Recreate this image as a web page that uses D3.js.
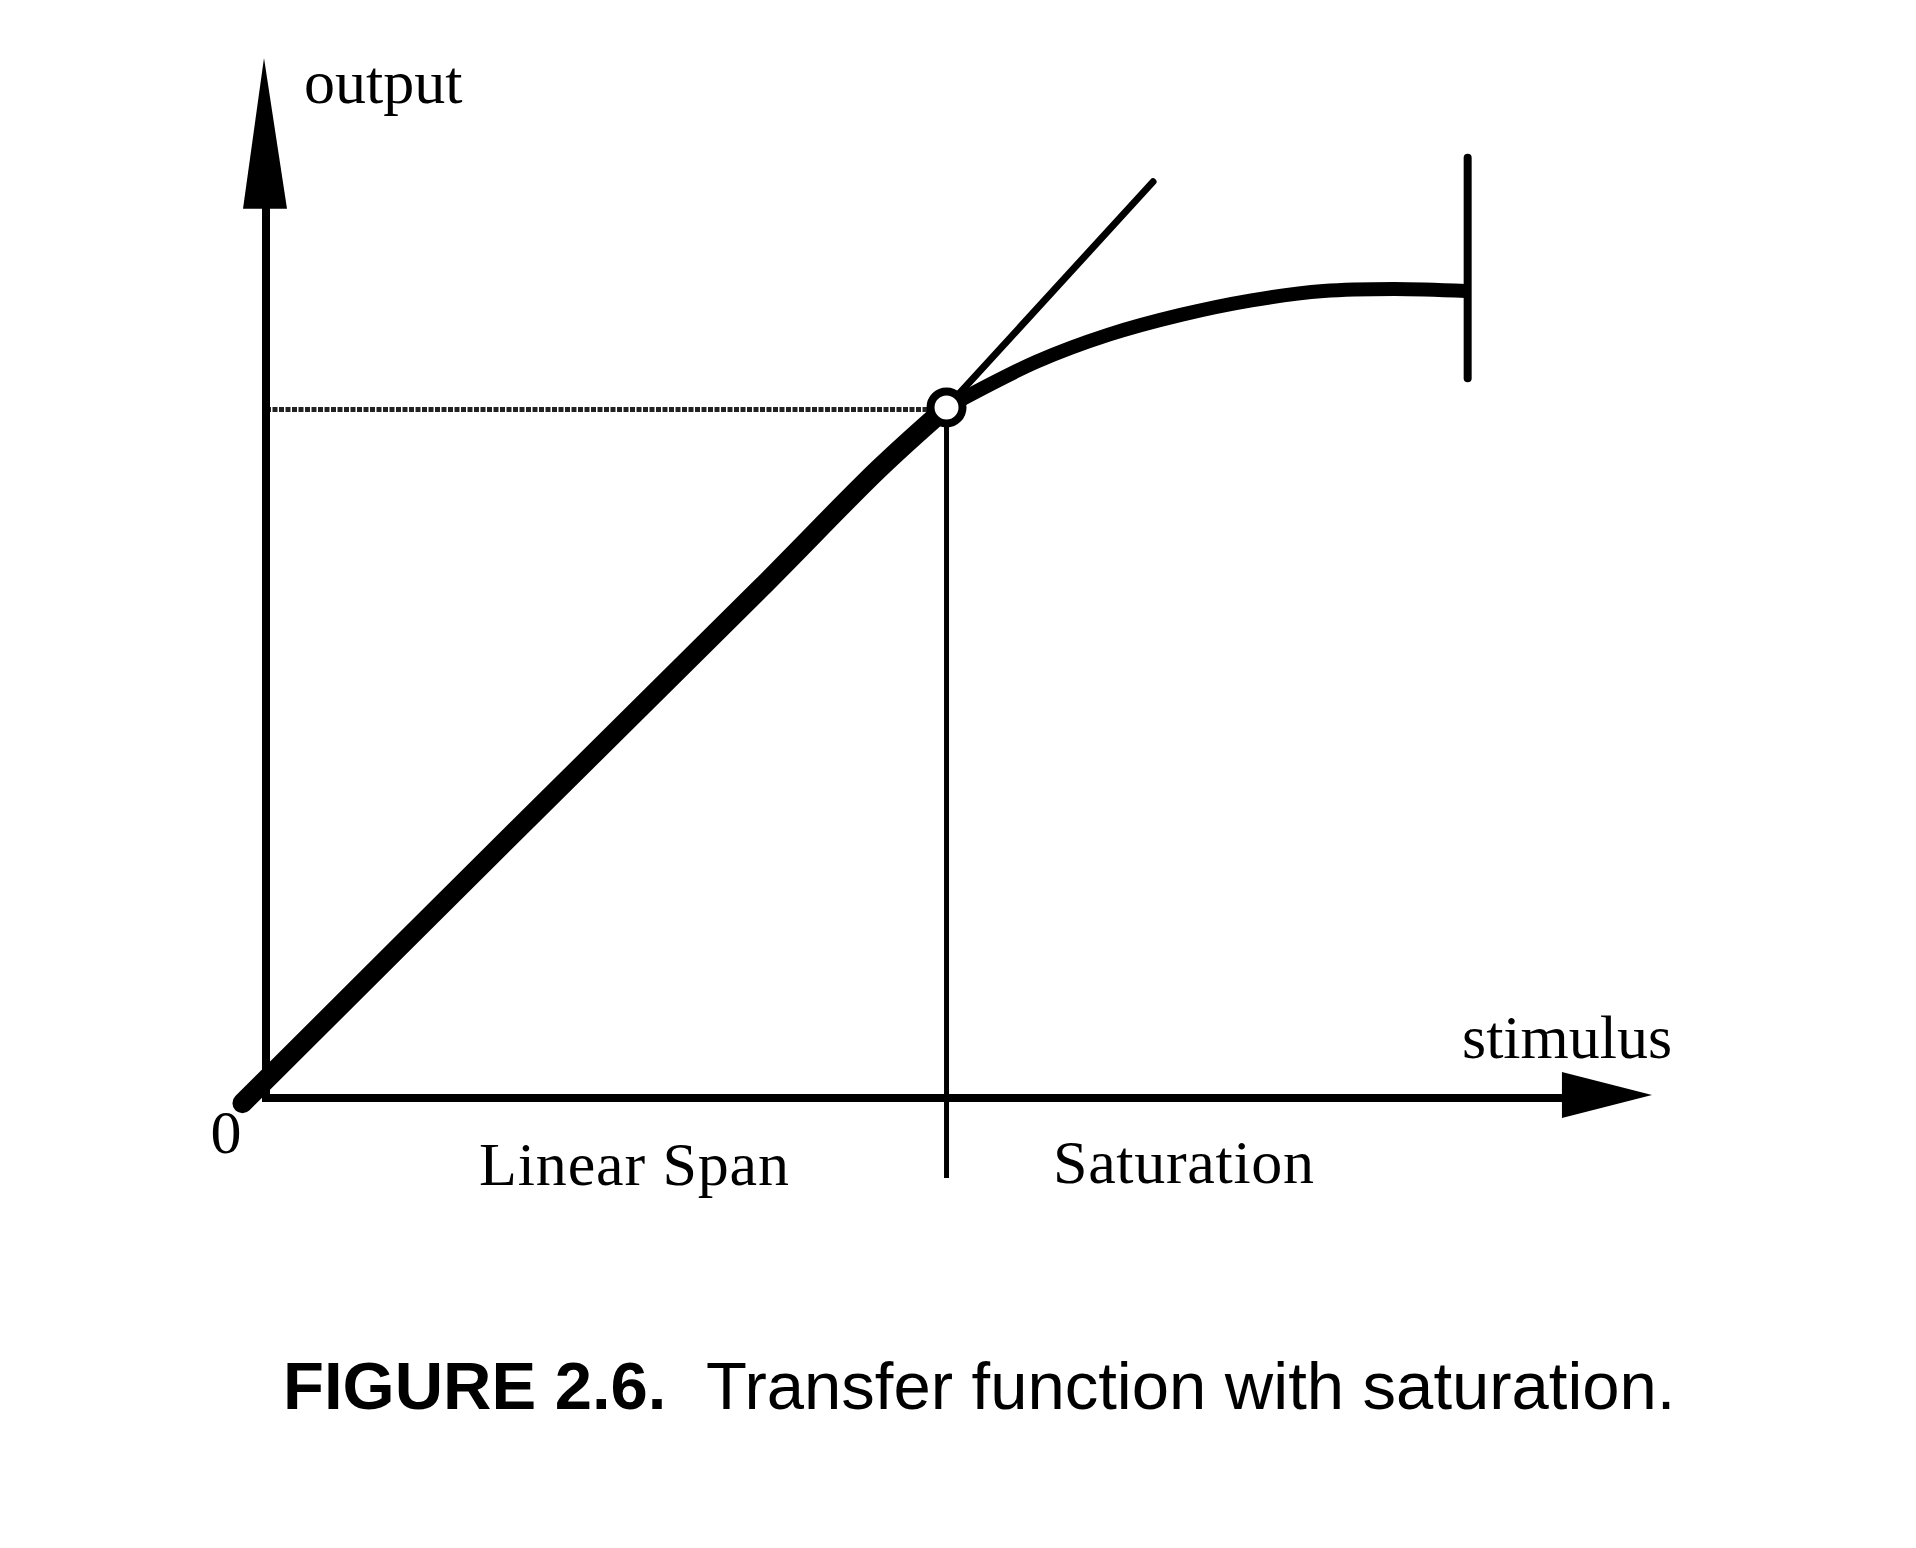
<!DOCTYPE html>
<html>
<head>
<meta charset="utf-8">
<script src="https://cdn.jsdelivr.net/npm/d3@7"></script>
<style>
  html, body { margin: 0; padding: 0; background: #fff; }
  svg { display: block; }
</style>
</head>
<body>
<svg id="chart" width="1916" height="1548"></svg>
<script>
// ---- data (arbitrary stimulus / output units) ----
const linearX = [-0.17, 1.69, 3.56, 4.43, 4.91];
const linearY = [-0.05, 2.42, 4.89, 6.06, 6.64];
const saturationX = [4.91, 5.56, 6.08, 6.60, 7.11, 7.63, 8.14, 8.66];
const saturationY = [6.64, 7.08, 7.34, 7.53, 7.67, 7.76, 7.78, 7.76];
const tangentX = [4.91, 6.40];
const tangentY = [6.64, 8.81];
const kneeX = 4.91, kneeY = 6.64;
const limitX = 8.67, limitYRange = [6.92, 9.04];
const axisLabels = ["output", "stimulus"];
const tickLabels = ["0"];
const regionLabels = ["Linear Span", "Saturation"];
const captionBold = "FIGURE 2.6.";
const captionText = "Transfer function with saturation.";

const svg = d3.select("#chart");
const x = d3.scaleLinear().domain([0, 10]).range([266, 1652]);
const y = d3.scaleLinear().domain([0, 10]).range([1098, 58]);

const serif = "'Liberation Serif', 'Times New Roman', serif";
const sans = "'Liberation Sans', Arial, sans-serif";

// guide lines
svg.append("line")
  .attr("x1", x(0)).attr("x2", x(kneeX))
  .attr("y1", y(kneeY) + 2).attr("y2", y(kneeY) + 2)
  .attr("stroke", "#222").attr("stroke-width", 5).attr("stroke-dasharray", "5 1.5");
svg.append("line")
  .attr("x1", x(kneeX)).attr("x2", x(kneeX))
  .attr("y1", y(kneeY)).attr("y2", y(-0.77))
  .attr("stroke", "#000").attr("stroke-width", 5);

// axes
svg.append("line")
  .attr("x1", x(0)).attr("x2", x(0))
  .attr("y1", y(0) + 4).attr("y2", y(8.6))
  .attr("stroke", "#000").attr("stroke-width", 8);
svg.append("path")
  .attr("d", `M${x(0)-23},${y(8.55)} L${x(0)-2},${y(10)} L${x(0)+21},${y(8.55)} Z`)
  .attr("fill", "#000");
svg.append("line")
  .attr("x1", x(0) - 4).attr("x2", x(9.4))
  .attr("y1", y(0)).attr("y2", y(0))
  .attr("stroke", "#000").attr("stroke-width", 8);
svg.append("path")
  .attr("d", `M${x(9.35)},${y(0)-26} L${x(10)},${y(0)-3} L${x(9.35)},${y(0)+20} Z`)
  .attr("fill", "#000");

// transfer function
const lineGen = d3.line().x(d => x(d[0])).y(d => y(d[1])).curve(d3.curveCatmullRom.alpha(0.5));
svg.append("path")
  .attr("d", lineGen(linearX.map((v, i) => [v, linearY[i]])))
  .attr("fill", "none").attr("stroke", "#000").attr("stroke-width", 20)
  .attr("stroke-linecap", "round");
svg.append("path")
  .attr("d", lineGen(saturationX.map((v, i) => [v, saturationY[i]])))
  .attr("fill", "none").attr("stroke", "#000").attr("stroke-width", 14);
svg.append("path")
  .attr("d", d3.line().x(d => x(d[0])).y(d => y(d[1]))(tangentX.map((v, i) => [v, tangentY[i]])))
  .attr("fill", "none").attr("stroke", "#000").attr("stroke-width", 7)
  .attr("stroke-linecap", "round");
svg.append("line")
  .attr("x1", x(limitX)).attr("x2", x(limitX))
  .attr("y1", y(limitYRange[0])).attr("y2", y(limitYRange[1]))
  .attr("stroke", "#000").attr("stroke-width", 8).attr("stroke-linecap", "round");

// knee marker
svg.append("circle")
  .attr("cx", x(kneeX)).attr("cy", y(kneeY)).attr("r", 16)
  .attr("fill", "#fff").attr("stroke", "#000").attr("stroke-width", 8);

// labels
svg.append("text").text(axisLabels[0])
  .attr("x", x(0) + 38).attr("y", 103)
  .attr("font-family", serif).attr("font-size", 62);
svg.append("text").text(axisLabels[1])
  .attr("x", 1462).attr("y", 1058)
  .attr("font-family", serif).attr("font-size", 62);
svg.append("text").text(tickLabels[0])
  .attr("x", x(0) - 40).attr("y", 1153).attr("text-anchor", "middle")
  .attr("font-family", serif).attr("font-size", 62);
svg.append("text").text(regionLabels[0])
  .attr("x", 479).attr("y", 1185)
  .attr("font-family", serif).attr("font-size", 62).attr("textLength", 310);
svg.append("text").text(regionLabels[1])
  .attr("x", 1053).attr("y", 1183)
  .attr("font-family", serif).attr("font-size", 62).attr("textLength", 261);

// caption
const cap = svg.append("text").attr("x", 283).attr("y", 1409)
  .attr("font-family", sans).attr("font-size", 67);
cap.append("tspan").text(captionBold).attr("font-weight", "bold");
cap.append("tspan").text(captionText).attr("x", 706);
</script>
</body>
</html>
